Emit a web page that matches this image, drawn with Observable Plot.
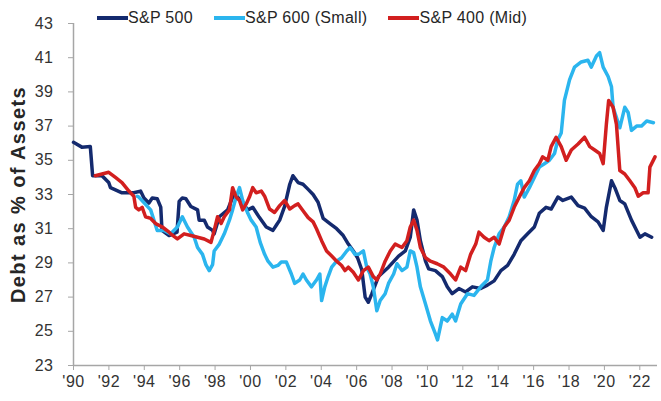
<!DOCTYPE html>
<html><head><meta charset="utf-8">
<script src="https://cdn.jsdelivr.net/npm/d3@7"></script>
<script src="https://cdn.jsdelivr.net/npm/@observablehq/plot@0.6"></script>
<style>
body{margin:0;background:#fff;}
#wrap{position:relative;width:661px;height:401px;font-family:"Liberation Sans",Arial,sans-serif;overflow:hidden;}
#legend{position:absolute;top:9px;left:97px;display:flex;gap:21px;font-size:16px;color:#262626;white-space:nowrap;z-index:2;letter-spacing:0.3px;}
.item{display:flex;align-items:center;}
.sw{width:31px;height:4px;}
</style></head><body><div id="wrap"><div id="legend"></div></div>
<script>
const seriesNames = ["S&P 500", "S&P 600 (Small)", "S&P 400 (Mid)"];
const seriesColors = ["#142a6e", "#2bb5ee", "#d21f1f"];
const xTicks = [1990,1992,1994,1996,1998,2000,2002,2004,2006,2008,2010,2012,2014,2016,2018,2020,2022];
const yTicks = [23,25,27,29,31,33,35,37,39,41,43];
const yTitle = "Debt as % of Assets";

// [decimal year, debt as % of assets]
const sp500 = [
[1990.00,36.05],[1990.47,35.77],[1990.95,35.8],[1991.08,34.1],[1991.61,34.1],[1991.99,33.7],[1992.09,33.4],
[1992.74,33.1],[1993.41,33.1],[1993.79,33.2],[1993.98,32.8],[1994.26,32.5],[1994.45,32.8],[1994.73,32.75],
[1994.93,32.26],[1995.00,30.9],[1995.40,30.6],[1995.85,30.8],[1995.97,32.6],[1996.15,32.8],[1996.35,32.75],
[1996.63,32.3],[1997.01,32.1],[1997.10,31.5],[1997.39,31.5],[1997.57,31.1],[1997.86,30.9],[1997.95,30.7],
[1998.24,31.7],[1998.71,32.1],[1999.09,33.1],[1999.47,32.6],[1999.85,32.1],[2000.13,32.25],[2000.51,31.65],
[2000.89,31.1],[2001.27,30.9],[2001.46,31.2],[2001.65,31.5],[2001.93,32.3],[2002.22,33.6],[2002.40,34.1],
[2002.69,33.7],[2002.97,33.6],[2003.26,33.3],[2003.54,33.0],[2003.82,32.55],[2004.11,31.6],[2004.49,31.3],
[2004.87,31.0],[2005.24,30.6],[2005.53,30.1],[2005.81,29.7],[2006.05,29.3],[2006.29,28.6],[2006.48,27.0],
[2006.66,26.7],[2006.86,27.2],[2007.23,28.2],[2007.80,28.75],[2008.37,29.4],[2008.75,29.7],[2009.03,30.5],
[2009.22,32.1],[2009.41,31.5],[2009.60,30.3],[2009.89,29.1],[2010.07,28.65],[2010.45,28.55],[2010.84,28.2],
[2011.12,27.6],[2011.40,27.2],[2011.78,27.5],[2012.16,27.3],[2012.54,27.6],[2013.01,27.5],[2013.39,27.7],
[2013.77,27.95],[2014.15,28.55],[2014.53,28.85],[2014.90,29.5],[2015.28,30.3],[2015.66,30.7],[2016.04,31.1],
[2016.32,31.9],[2016.70,32.25],[2016.99,32.15],[2017.37,32.85],[2017.65,32.65],[2018.13,32.85],[2018.51,32.35],
[2018.88,32.2],[2019.26,31.7],[2019.64,31.4],[2019.93,30.9],[2020.11,32.25],[2020.40,33.8],[2020.59,33.4],
[2020.87,32.65],[2021.15,32.45],[2021.53,31.5],[2021.82,30.9],[2022.01,30.5],[2022.29,30.7],[2022.67,30.5]
];
const sp600 = [
[1993.60,32.9],[1993.69,32.85],[1994.36,32.1],[1994.73,30.9],[1995.11,30.9],[1995.49,30.7],[1995.87,31.1],
[1996.15,31.7],[1996.44,31.1],[1996.82,30.5],[1997.01,29.9],[1997.29,29.5],[1997.48,28.9],[1997.67,28.55],
[1997.86,28.9],[1997.95,29.7],[1998.24,30.1],[1998.52,30.7],[1998.81,31.5],[1998.99,32.1],[1999.19,32.85],
[1999.38,33.4],[1999.56,32.65],[1999.85,31.9],[2000.04,31.5],[2000.32,31.1],[2000.55,30.2],[2000.80,29.5],
[2000.99,29.1],[2001.27,28.75],[2001.55,28.85],[2001.74,29.05],[2002.03,29.05],[2002.31,28.35],[2002.50,27.8],
[2002.78,28.0],[2002.97,28.35],[2003.16,28.0],[2003.45,27.6],[2003.73,28.0],[2003.92,28.35],[2004.02,26.8],
[2004.20,27.6],[2004.39,28.2],[2004.59,28.75],[2004.87,29.1],[2005.15,29.3],[2005.44,29.7],[2005.63,29.9],
[2005.91,29.5],[2006.10,29.5],[2006.38,29.7],[2006.57,28.75],[2006.76,28.35],[2006.94,27.6],[2007.14,26.2],
[2007.33,26.8],[2007.61,27.2],[2007.80,27.8],[2008.09,28.35],[2008.28,28.95],[2008.56,28.55],[2008.84,28.75],
[2009.03,29.7],[2009.22,29.6],[2009.41,28.75],[2009.60,27.6],[2009.89,26.6],[2010.17,25.6],[2010.45,24.85],
[2010.57,24.5],[2010.84,25.8],[2011.12,25.6],[2011.40,26.0],[2011.59,25.6],[2011.88,26.6],[2012.26,27.2],
[2012.63,27.1],[2013.01,27.6],[2013.39,28.0],[2013.58,29.1],[2013.77,29.9],[2014.05,30.7],[2014.34,31.1],
[2014.62,31.7],[2014.90,32.65],[2015.09,33.6],[2015.28,33.8],[2015.47,32.85],[2015.76,33.4],[2016.04,34.0],
[2016.32,34.6],[2016.61,34.8],[2016.89,35.0],[2017.18,35.4],[2017.37,36.2],[2017.56,36.6],[2017.74,38.5],
[2018.03,39.7],[2018.31,40.45],[2018.69,40.75],[2019.07,40.85],[2019.26,40.45],[2019.55,41.1],[2019.73,41.3],
[2019.93,40.45],[2020.21,39.9],[2020.40,39.3],[2020.49,38.1],[2020.68,37.5],[2020.87,36.9],[2021.15,38.1],
[2021.34,37.8],[2021.53,36.75],[2021.82,37.0],[2022.10,37.0],[2022.39,37.3],[2022.77,37.2]
];
const sp400 = [
[1991.23,34.1],[1991.61,34.2],[1991.99,34.3],[1992.37,34.0],[1992.74,33.7],[1993.13,33.2],[1993.41,32.9],
[1993.51,32.25],[1993.69,32.1],[1993.88,32.25],[1994.07,31.7],[1994.36,31.6],[1994.64,31.3],[1995.02,31.1],
[1995.40,30.8],[1995.49,30.7],[1995.87,30.4],[1996.25,30.7],[1996.63,30.6],[1997.01,30.5],[1997.39,30.4],
[1997.77,30.2],[1997.95,30.9],[1998.14,31.7],[1998.34,31.3],[1998.52,31.7],[1998.81,32.1],[1998.99,33.4],
[1999.19,32.85],[1999.38,32.65],[1999.56,32.1],[1999.76,32.45],[1999.94,32.85],[2000.13,33.4],[2000.32,33.1],
[2000.61,33.2],[2000.80,32.9],[2001.08,32.15],[2001.36,31.95],[2001.65,32.35],[2001.93,32.65],[2002.22,32.15],
[2002.50,32.35],[2002.69,32.45],[2002.97,32.05],[2003.26,31.65],[2003.54,31.4],[2003.73,31.0],[2004.02,30.3],
[2004.30,29.7],[2004.59,29.4],[2004.87,29.1],[2005.15,28.85],[2005.34,28.55],[2005.53,28.75],[2005.81,28.45],
[2006.10,28.0],[2006.38,28.55],[2006.66,28.75],[2006.94,28.2],[2007.14,28.0],[2007.33,28.35],[2007.61,29.1],
[2007.90,29.7],[2008.18,30.1],[2008.56,29.9],[2008.84,30.3],[2009.03,31.1],[2009.22,31.5],[2009.41,30.9],
[2009.60,29.9],[2009.89,29.3],[2010.17,29.1],[2010.55,28.95],[2010.93,28.75],[2011.31,28.35],[2011.59,28.0],
[2011.88,28.75],[2012.16,28.55],[2012.44,29.5],[2012.73,30.1],[2012.91,30.8],[2013.20,30.5],[2013.48,30.3],
[2013.77,30.5],[2014.05,30.1],[2014.34,31.1],[2014.62,31.5],[2014.90,32.25],[2015.19,32.85],[2015.47,33.4],
[2015.76,33.8],[2016.04,34.4],[2016.32,34.8],[2016.51,35.2],[2016.80,35.0],[2016.99,35.8],[2017.27,36.35],
[2017.56,35.8],[2017.84,35.0],[2018.13,35.6],[2018.51,35.95],[2018.88,36.35],[2019.17,35.8],[2019.45,35.6],
[2019.73,35.4],[2019.93,34.8],[2020.11,37.1],[2020.24,38.5],[2020.49,38.1],[2020.68,37.1],[2020.87,34.4],
[2021.15,34.2],[2021.44,33.8],[2021.72,33.4],[2021.91,32.9],[2022.19,33.1],[2022.47,33.1],[2022.57,34.6],
[2022.86,35.2]
];

const seriesData = [sp500, sp600, sp400];
const rows = seriesData.flatMap((arr, i) => arr.map(([t, v]) => ({t, v, s: seriesNames[i]})));

const chart = Plot.plot({
  width: 661,
  height: 401,
  marginLeft: 73,
  marginRight: 4,
  marginTop: 23,
  marginBottom: 36,
  style: {fontFamily: '"Liberation Sans", Arial, sans-serif', fontSize: "16px", color: "#333", background: "#fff"},
  x: {domain: [1990, 2023], ticks: xTicks, tickSize: 5, tickPadding: 5, label: null,
      tickFormat: d => "'" + String(d % 100).padStart(2, "0")},
  y: {domain: [yTicks[0], yTicks[yTicks.length - 1]], ticks: yTicks, tickSize: 5, tickPadding: 15, label: null},
  color: {domain: seriesNames, range: seriesColors},
  marks: [
    Plot.ruleX([1990], {stroke: "#a6a6a6", strokeWidth: 1.5}),
    Plot.ruleY([yTicks[0]], {stroke: "#a6a6a6", strokeWidth: 1.5}),
    Plot.line(rows, {x: "t", y: "v", z: "s", stroke: "s", strokeWidth: 3.5, strokeLinejoin: "round", curve: "linear"}),
    Plot.text([yTitle], {frameAnchor: "left", textAnchor: "middle", rotate: -90, dx: -55, fontSize: 20, fontWeight: "bold", fill: "#262626"})
  ]
});
d3.select(chart).selectAll('g[aria-label="x-axis tick"], g[aria-label="y-axis tick"]').attr("stroke", "#a6a6a6");
d3.select(chart).selectAll('g[aria-label="text"] text').style("letter-spacing", "1.4px");
d3.select(chart).selectAll('g[aria-label="x-axis tick label"] text, g[aria-label="y-axis tick label"] text').style("letter-spacing", "0.5px");
document.getElementById("wrap").appendChild(chart);

const legend = d3.select("#legend");
seriesNames.forEach((name, i) => {
  const it = legend.append("div").attr("class", "item");
  it.append("div").attr("class", "sw").style("background", seriesColors[i]);
  it.append("span").text(name);
});
</script></body></html>
